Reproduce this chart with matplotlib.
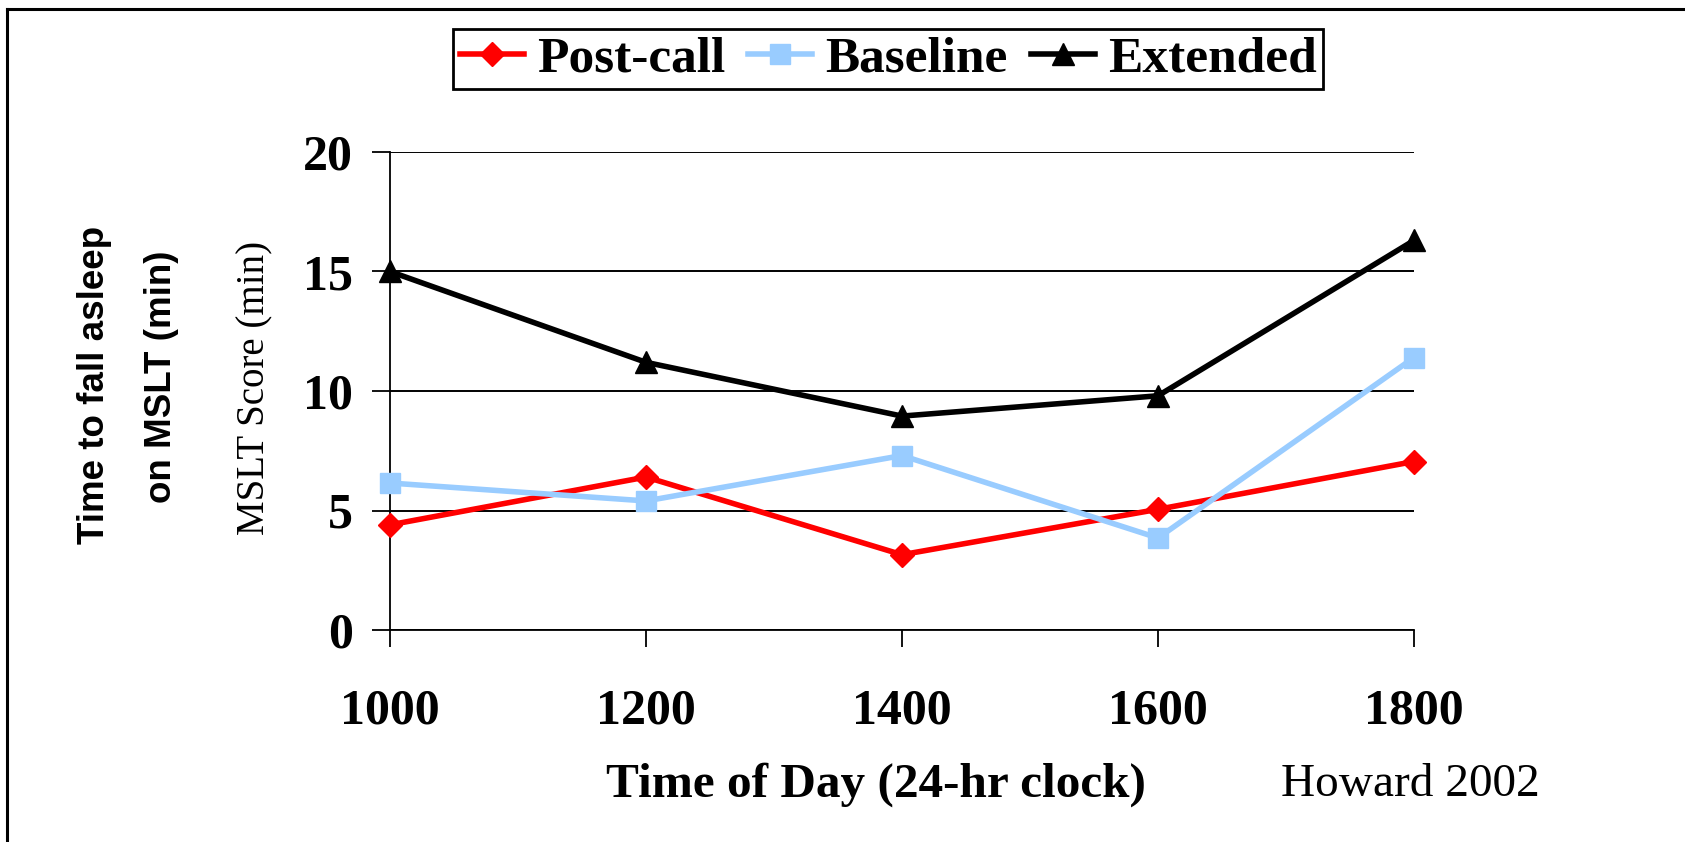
import matplotlib
matplotlib.use('Agg')
import matplotlib.pyplot as plt
from matplotlib.lines import Line2D

# data
times = [1000, 1200, 1400, 1600, 1800]
post_call = [4.4, 6.4, 3.15, 5.05, 7.05]
baseline = [6.15, 5.4, 7.3, 3.85, 11.4]
extended = [15.0, 11.2, 8.95, 9.8, 16.3]
y_ticks = [0, 5, 10, 15, 20]

W, H = 1685, 842
fig = plt.figure(figsize=(W / 100, H / 100), dpi=100)
ax = fig.add_axes([390 / W, 1 - 630 / H, (1414 - 390) / W, (630 - 152) / H])

serif = 'Liberation Serif'

ax.plot(times, post_call, color='#FF0000', lw=4, marker='D', ms=12,
        label='Post-call', clip_on=False, zorder=3)
ax.plot(times, baseline, color='#99CCFF', lw=4, marker='s', ms=14,
        label='Baseline', clip_on=False, zorder=3)
ax.plot(times, extended, color='black', lw=4, marker='^', ms=16,
        label='Extended', clip_on=False, zorder=3)

ax.set_xlim(1000, 1800)
ax.set_ylim(0, 20)
ax.set_xticks(times)
ax.set_yticks(y_ticks)
ax.yaxis.grid(True, color='black', lw=1.4)
ax.set_axisbelow(True)
for s in ['top', 'right']:
    ax.spines[s].set_visible(False)
ax.spines['left'].set_linewidth(1.3)
ax.spines['bottom'].set_linewidth(1.3)
ax.tick_params(axis='y', length=13, width=1.3, pad=14)
ax.tick_params(axis='x', length=12, width=1.3, pad=30)
for lab in ax.get_xticklabels() + ax.get_yticklabels():
    lab.set_fontfamily(serif)
    lab.set_fontweight('bold')
    lab.set_fontsize(36)

# axis titles
fig.text(876 / W, 1 - 785 / H, 'Time of Day (24-hr clock)', family=serif,
         weight='bold', fontsize=35.5, ha='center', va='center')
fig.text(1281 / W, 1 - 785 / H, 'Howard 2002', family=serif,
         fontsize=34, ha='left', va='center')
fig.text(255 / W, 1 - 388 / H, 'MSLT Score (min)', family=serif,
         fontsize=28, rotation=90, ha='center', va='center')
fig.text(95 / W, 1 - 385 / H, 'Time to fall asleep', family='Liberation Sans',
         weight='bold', fontsize=26.5, rotation=90, ha='center', va='center')
fig.text(161 / W, 1 - 377 / H, 'on MSLT (min)', family='Liberation Sans',
         weight='bold', fontsize=26.5, rotation=90, ha='center', va='center')

leg = fig.legend(loc='center', bbox_to_anchor=(888 / W, 1 - 59 / H), ncol=3,
                 prop={'family': serif, 'weight': 'bold', 'size': 37},
                 frameon=True, fancybox=False, framealpha=1, edgecolor='black',
                 handlelength=1.25, handletextpad=0.25, columnspacing=0.45,
                 borderpad=0.12)
leg.get_frame().set_linewidth(2)

# outer frame (left and top only)
fig.add_artist(Line2D([7 / W, 7 / W], [0, 1 - 9 / H], color='black', lw=2.2))
fig.add_artist(Line2D([7 / W, 1], [1 - 9 / H, 1 - 9 / H], color='black', lw=2.2))

fig.savefig('out.png', dpi=100)
